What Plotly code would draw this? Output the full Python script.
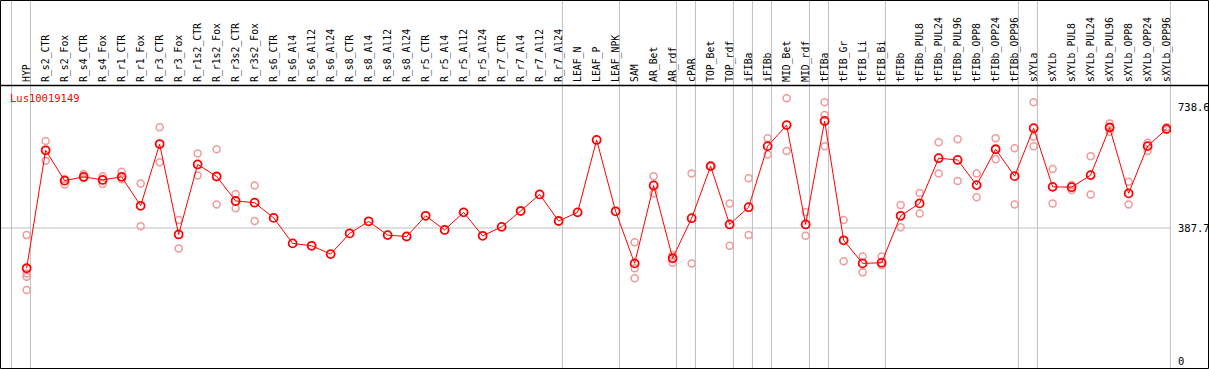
import plotly.graph_objects as go

gene = "Lus10019149"

categories = ["HYP", "R_s2_CTR", "R_s2_Fox", "R_s4_CTR", "R_s4_Fox", "R_r1_CTR", "R_r1_Fox",
              "R_r3_CTR", "R_r3_Fox", "R_r1s2_CTR", "R_r1s2_Fox", "R_r3s2_CTR", "R_r3s2_Fox",
              "R_s6_CTR", "R_s6_Al4", "R_s6_Al12", "R_s6_Al24", "R_s8_CTR", "R_s8_Al4", "R_s8_Al12",
              "R_s8_Al24", "R_r5_CTR", "R_r5_Al4", "R_r5_Al12", "R_r5_Al24", "R_r7_CTR", "R_r7_Al4",
              "R_r7_Al12", "R_r7_Al24", "LEAF_N", "LEAF_P", "LEAF_NPK", "SAM", "AR_Bet", "AR_rdf",
              "cPAR", "TOP_Bet", "TOP_rdf", "iFIBa", "iFIBb", "MID_Bet", "MID_rdf", "tFIBa",
              "tFIB_Gr", "tFIB_Li", "tFIB_Bi", "tFIBb", "tFIBb_PUL8", "tFIBb_PUL24", "tFIBb_PUL96",
              "tFIBb_OPP8", "tFIBb_OPP24", "tFIBb_OPP96", "sXYLa", "sXYLb", "sXYLb_PUL8",
              "sXYLb_PUL24", "sXYLb_PUL96", "sXYLb_OPP8", "sXYLb_OPP24", "sXYLb_OPP96"]

means = [271, 613, 525, 536, 527, 536, 452, 631, 369, 572, 537, 466, 461,
         417, 343, 336, 312, 372, 407, 367, 363, 423, 382, 433, 365, 391, 437, 485, 408,
         433, 643, 436, 285, 511, 300, 416, 567, 398, 448, 625, 686, 398, 698,
         352, 285, 287, 423, 459, 590, 585, 512, 616, 538, 677, 507, 506,
         541, 679, 488, 625, 675]

replicates = [[367, 256, 246, 208], [640, 583], [530, 514], [544, 532], [538, 515], [551, 529],
              [517, 393], [680, 578], [411, 328], [604, 540], [616, 456], [486, 445], [511, 408],
              [], [], [], [], [], [], [], [], [], [], [], [], [], [], [], [],
              [], [], [], [346, 271, 242], [538, 488], [309, 287], [546, 285], [567, 567],
              [459, 336], [532, 367], [648, 601], [764, 611], [433, 365], [752, 715, 625],
              [411, 291], [305, 259], [305, 280], [454, 390], [489, 430], [636, 546], [645, 524],
              [546, 477], [648, 587], [619, 456], [752, 652, 625], [559, 459], [512, 498],
              [596, 485], [691, 667], [522, 456], [635, 611], [680, 672]]

ytick_vals = [0, 387.7, 738.6]
group_ends = [-1, 0, 28, 31, 34, 35, 37, 38, 39, 41, 42, 45, 52, 53, 60]

rep_x, rep_y = [], []
for c, reps in zip(categories, replicates):
    for v in reps:
        rep_x.append(c)
        rep_y.append(v)

MONO = "DejaVu Sans Mono"
W, H = 1209, 370
L, R, T, B = 1, 38, 85, 2
pw, ph = W - L - R, H - T - B


def px(xp):
    return (xp - L) / pw


def py(yp):
    return (H - B - yp) / ph


fig = go.Figure()
fig.add_trace(go.Scatter(x=rep_x, y=rep_y, mode="markers",
                         marker=dict(symbol="circle-open", size=7, color="#f09a9a",
                                     line=dict(width=1.5, color="#f09a9a")),
                         hoverinfo="y", showlegend=False))
fig.add_trace(go.Scatter(x=categories, y=means, mode="lines+markers",
                         line=dict(color="#ff0000", width=1),
                         marker=dict(symbol="circle-open", size=8, color="#ff0000",
                                     line=dict(width=1.8, color="#ff0000")),
                         showlegend=False))

shapes = []
for g in group_ends:
    shapes.append(dict(type="line", xref="x", yref="paper", x0=g + 0.2, x1=g + 0.2,
                       y0=py(368), y1=py(0), line=dict(color="#c0c0c0", width=1), layer="below"))
shapes.append(dict(type="line", xref="paper", yref="y", x0=0, x1=1, y0=ytick_vals[1],
                   y1=ytick_vals[1], line=dict(color="#c0c0c0", width=1), layer="below"))
shapes.append(dict(type="rect", xref="paper", yref="paper", x0=px(0.5), x1=px(1208.5),
                   y0=py(368.5), y1=py(0.5), line=dict(color="black", width=1)))
shapes.append(dict(type="line", xref="paper", yref="paper", x0=px(0.5), x1=px(1208.5),
                   y0=py(85.5), y1=py(85.5), line=dict(color="black", width=1.5)))

fig.update_layout(
    width=W, height=H, margin=dict(l=L, r=R, t=T, b=B, autoexpand=False),
    paper_bgcolor="white", plot_bgcolor="white",
    shapes=shapes,
    xaxis=dict(type="category", categoryorder="array", categoryarray=categories,
               range=[-1.35, 60.23], side="top", tickangle=-90, showgrid=False,
               zeroline=False, showline=False, ticks="", ticklabelstandoff=2,
               automargin=False,
               tickfont=dict(family=MONO, size=9.8, color="black")),
    yaxis=dict(range=[-18.3, 802.3], side="right", tickvals=ytick_vals,
               ticktext=[str(v) if v else "0" for v in ytick_vals], showgrid=False,
               zeroline=False, showline=False, ticks="", ticklabelstandoff=6,
               automargin=False,
               tickfont=dict(family=MONO, size=10.5, color="black")),
    annotations=[dict(text=gene, xref="paper", yref="paper", x=px(8), y=py(90),
                      xanchor="left", yanchor="top", showarrow=False,
                      font=dict(family=MONO, size=10.5, color="#ff0000"))],
)

fig.write_html("out.html", config={"displayModeBar": False},
               post_script="document.body.style.margin='0px';document.body.style.overflow='hidden';")
